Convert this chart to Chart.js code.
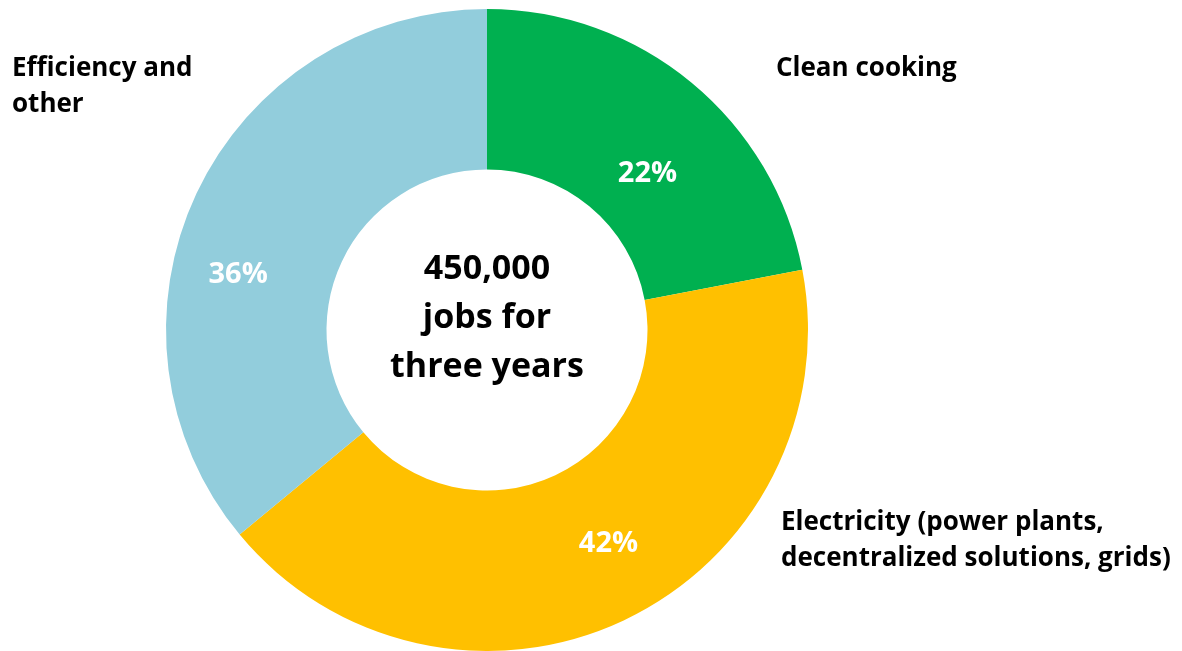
<!DOCTYPE html>
<html>
<head>
<meta charset="utf-8">
<script src="https://cdn.jsdelivr.net/npm/chart.js@4"></script>
<style>
  html, body { margin: 0; padding: 0; background: #fff; }
  #wrap { width: 1182px; height: 651px; position: relative; }
</style>
</head>
<body>
<div id="wrap"><canvas id="jobsChart"></canvas></div>
<script>
const categories = ['Clean cooking', 'Electricity (power plants, decentralized solutions, grids)', 'Efficiency and other'];
const shares = [22, 42, 36];
const sliceColors = ['#00B050', '#FFC000', '#92CDDC'];
const centerLines = ['450,000', 'jobs for', 'three years'];

const FONT = '"Open Sans", sans-serif';

// nudges so the % labels sit where Excel put them
const pctNudge = [[7, 29], [19, -4], [-31, 47]];

// category labels sit outside the ring, Excel-style
const outerLabels = [
  { lines: ['Clean cooking'], x: 776, y: 69 },
  { lines: ['Electricity (power plants,', 'decentralized solutions, grids)'], x: 781, y: 523 },
  { lines: ['Efficiency and', 'other'], x: 12, y: 69 }
];

const textPlugin = {
  id: 'textPlugin',
  afterDatasetsDraw(chart) {
    const ctx = chart.ctx;
    const meta = chart.getDatasetMeta(0);
    ctx.save();

    // percentages on the slices
    ctx.fillStyle = '#fff';
    ctx.font = 'bold 29px ' + FONT;
    ctx.textAlign = 'center';
    ctx.textBaseline = 'middle';
    meta.data.forEach((arc, i) => {
      const p = arc.getCenterPoint();
      ctx.fillText(shares[i] + '%', p.x + pctNudge[i][0], p.y + pctNudge[i][1]);
    });

    // center text
    const c = meta.data[0];
    ctx.fillStyle = '#000';
    ctx.font = 'bold 34px ' + FONT;
    centerLines.forEach((t, i) => {
      ctx.fillText(t, c.x, c.y - 61 + i * 49);
    });

    // outer labels
    ctx.textAlign = 'left';
    ctx.font = 'bold 26px ' + FONT;
    outerLabels.forEach(l => {
      l.lines.forEach((t, i) => ctx.fillText(t, l.x, l.y + i * 36));
    });
    ctx.restore();
  }
};

new Chart(document.getElementById('jobsChart'), {
  type: 'doughnut',
  data: {
    labels: categories,
    datasets: [{
      data: shares,
      backgroundColor: sliceColors,
      borderWidth: 0
    }]
  },
  options: {
    responsive: true,
    maintainAspectRatio: false,
    animation: false,
    cutout: '50%',
    layout: { padding: { left: 166, right: 374, top: 9, bottom: 0 } },
    plugins: {
      legend: { display: false },
      tooltip: { enabled: false }
    }
  },
  plugins: [textPlugin]
});
</script>
</body>
</html>
